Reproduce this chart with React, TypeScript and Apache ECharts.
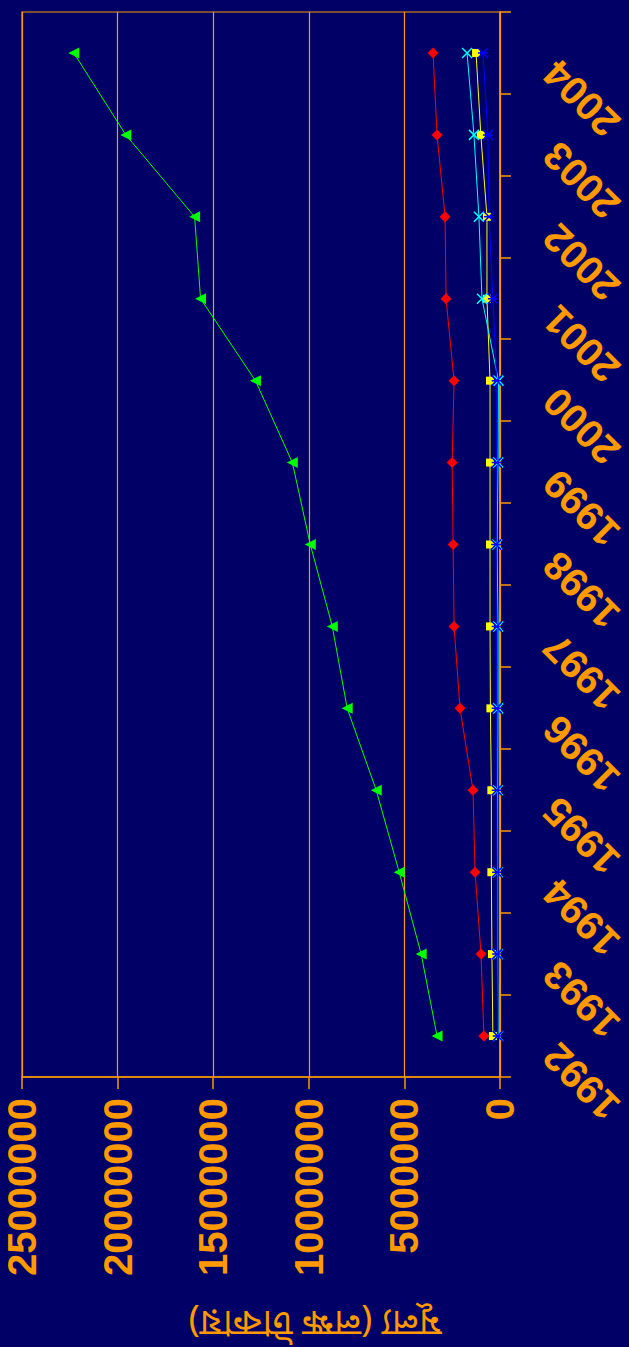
import React, { useEffect, useRef } from "react";
import * as echarts from "echarts";

const years = ["1992", "1993", "1994", "1995", "1996", "1997", "1998", "1999", "2000", "2001", "2002", "2003", "2004"];
const greenValues = [3290000, 4120000, 5270000, 6470000, 7990000, 8770000, 9920000, 10860000, 12790000, 15660000, 15970000, 19570000, 22290000];
const redValues = [840000, 990000, 1300000, 1410000, 2090000, 2400000, 2450000, 2500000, 2400000, 2820000, 2870000, 3290000, 3500000];
const yellowValues = [370000, 420000, 450000, 450000, 500000, 520000, 520000, 520000, 520000, 680000, 680000, 1000000, 1250000];
const cyanValues = [100000, 120000, 120000, 120000, 100000, 100000, 150000, 100000, 80000, 940000, 1100000, 1360000, 1720000];
const blueValues = [120000, 150000, 150000, 170000, 170000, 170000, 200000, 170000, 170000, 370000, 570000, 630000, 890000];
const valueTicks = { min: 0, max: 25000000, interval: 5000000 };
const axisTitle = "মূল্য (লক্ষ টাকায়)";

const ORANGE = "#FF9900";
const BG = "#000066";
const FONT = "'Liberation Sans', Arial, sans-serif";

const X_SYMBOL = "path://M0 0L10 10M10 0L0 10";
const STAR_SYMBOL = "path://M0 0L10 10M10 0L0 10M5 0L5 10";

export default function App() {
  const ref = useRef<HTMLDivElement>(null);
  useEffect(() => {
    if (!ref.current) return;
    const chart = echarts.init(ref.current, null, { renderer: "svg" });
    chart.setOption({
      animation: false,
      backgroundColor: BG,
      grid: {
        left: 270,
        right: 12,
        top: 22,
        bottom: 128,
        show: true,
        borderColor: ORANGE,
        borderWidth: 1.2,
        backgroundColor: "transparent",
      },
      xAxis: {
        type: "category",
        data: years,
        boundaryGap: true,
        axisLine: { show: true, lineStyle: { color: ORANGE, width: 1.5 } },
        axisTick: { show: true, length: 11, lineStyle: { color: ORANGE, width: 1.5 } },
        axisLabel: {
          rotate: 45,
          align: "right",
          verticalAlign: "bottom",
          margin: 64,
          color: ORANGE,
          fontSize: 40,
          fontWeight: "bold",
          fontFamily: FONT,
          interval: 0,
        },
        splitLine: { show: false },
      },
      yAxis: {
        type: "value",
        min: valueTicks.min,
        max: valueTicks.max,
        interval: valueTicks.interval,
        axisLine: { show: true, lineStyle: { color: ORANGE, width: 1.5 } },
        axisTick: { show: true, length: 12, lineStyle: { color: ORANGE, width: 1.5 } },
        axisLabel: {
          margin: 21,
          color: ORANGE,
          fontSize: 40,
          fontWeight: "bold",
          fontFamily: FONT,
          formatter: (v: number) => String(v),
        },
        splitLine: { show: true, lineStyle: { color: ORANGE, width: 1.2 } },
      },
      graphic: [
        {
          type: "text",
          x: 27,
          y: 315,
          rotation: Math.PI / 2,
          style: {
            text: axisTitle,
            fill: ORANGE,
            fontSize: 37,
            lineHeight: 40,
            fontFamily: "'Noto Sans Bengali', 'Lohit Bengali', 'FreeSans', 'Noto Sans', sans-serif",
            textAlign: "center",
            textVerticalAlign: "middle",
          },
        },
      ],
      series: [
        {
          name: "green",
          type: "line",
          data: greenValues,
          symbol: "triangle",
          symbolSize: 11,
          lineStyle: { color: "#00FF00", width: 1 },
          itemStyle: { color: "#00FF00" },
        },
        {
          name: "red",
          type: "line",
          data: redValues,
          symbol: "diamond",
          symbolSize: 11,
          lineStyle: { color: "#FF0000", width: 1 },
          itemStyle: { color: "#FF0000" },
        },
        {
          name: "yellow",
          type: "line",
          data: yellowValues,
          symbol: "rect",
          symbolSize: 8,
          lineStyle: { color: "#FFFF00", width: 1 },
          itemStyle: { color: "#FFFF00" },
        },
        {
          name: "cyan",
          type: "line",
          data: cyanValues,
          symbol: X_SYMBOL,
          symbolSize: 10,
          lineStyle: { color: "#00FFFF", width: 1 },
          itemStyle: { color: "#00FFFF", borderColor: "#00FFFF", borderWidth: 1.5 },
        },
        {
          name: "blue",
          type: "line",
          data: blueValues,
          symbol: STAR_SYMBOL,
          symbolSize: 10,
          lineStyle: { color: "#0000FF", width: 1 },
          itemStyle: { color: "#0000FF", borderColor: "#0000FF", borderWidth: 1.5 },
        },
      ],
    });
    return () => chart.dispose();
  }, []);

  return (
    <div
      style={{
        position: "absolute",
        left: 0,
        top: 0,
        width: 629,
        height: 1347,
        overflow: "hidden",
        background: BG,
      }}
    >
      <div
        ref={ref}
        style={{
          position: "absolute",
          left: 0,
          top: 0,
          width: 1347,
          height: 629,
          transformOrigin: "0 0",
          transform: "translateY(1347px) rotate(-90deg)",
        }}
      />
    </div>
  );
}
